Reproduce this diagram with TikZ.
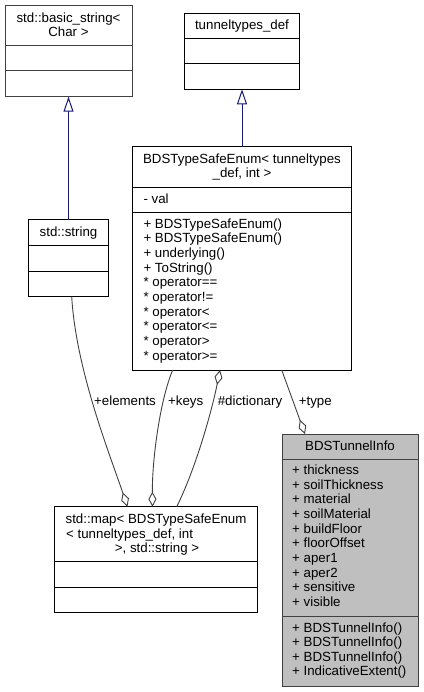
\documentclass[tikz,border=0pt]{standalone}
\usepackage{fontspec}
\setmainfont{Liberation Sans}
\usetikzlibrary{arrows.meta}

\definecolor{edgegray}{HTML}{404040}
\definecolor{inhblue}{HTML}{191970}
\definecolor{rootgray}{HTML}{BFBFBF}
\newcommand\umlfont{\fontsize{13.3}{14.7}\selectfont}

\begin{document}
\begin{tikzpicture}[x=1pt,y=-1pt,
  classbox/.style={draw=black,line width=1pt,fill=white,anchor=north west,
    inner sep=0pt,outer sep=0pt},
  member/.style={anchor=base west,inner sep=0pt,font=\umlfont},
  title/.style={anchor=base,inner sep=0pt,font=\umlfont},
  inherit/.style={draw=inhblue,line width=1pt,
    -{Triangle[length=15pt,width=10pt,fill=white]}},
  aggr/.style={draw=edgegray,line width=0.9pt,
    -{Diamond[length=15pt,width=8pt,fill=white]}}]

\useasboundingbox (0,0) rectangle (423,692);

% std::basic_string< Char >
\node[classbox,draw=edgegray,minimum width=127pt,minimum height=91pt] (bstr) at (5,5.7) {};
\draw[edgegray,line width=1pt] (5,46) -- (132,46);
\draw[edgegray,line width=1pt] (5,71) -- (132,71);
\node[title] (bstrt1) at (68.5,22.5) {std::basic\_string<};
\node[title] (bstrt2) at (68.5,36.5) {Char >};

% tunneltypes_def
\node[classbox,minimum width=114.6pt,minimum height=76pt] (tdef) at (184.7,13.3) {};
\draw[line width=1pt] (184.7,38.7) -- (299.3,38.7);
\draw[line width=1pt] (184.7,63.7) -- (299.3,63.7);
\node[title] (tdeft) at (242,29.5) {tunneltypes\_def};

% BDSTypeSafeEnum< tunneltypes_def, int >
\node[classbox,minimum width=218.6pt,minimum height=223.3pt] (enum) at (132.7,146.7) {};
\draw[line width=1pt] (132.7,187.3) -- (351.3,187.3);
\draw[line width=1pt] (132.7,212.3) -- (351.3,212.3);
\node[title] (enumt1) at (242,163.5) {BDSTypeSafeEnum< tunneltypes};
\node[title] (enumt2) at (242,177.5) {\_def, int >};
\node[member] (enumval) at (143.3,203.5) {- val};
\foreach \m [count=\i from 0] in {+ BDSTypeSafeEnum(), + BDSTypeSafeEnum(),
    + underlying(), + ToString(), * operator==, * operator!=, * operator<,
    * operator<=, * operator>, * operator>=}
  \node[member] (enumop\i) at (143.3,228.3+\i*14.67) {\m};

% std::string
\node[classbox,minimum width=80.4pt,minimum height=76.7pt] (str) at (28.3,220) {};
\draw[line width=1pt] (28.3,245.7) -- (108.7,245.7);
\draw[line width=1pt] (28.3,271) -- (108.7,271);
\node[title] (strt) at (68.5,236.5) {std::string};

% std::map< ... >
\node[classbox,minimum width=203.2pt,minimum height=106pt] (map) at (54.5,506.7) {};
\draw[line width=1pt] (54.5,561.7) -- (257.7,561.7);
\draw[line width=1pt] (54.5,587) -- (257.7,587);
\node[title] (mapt1) at (156,523.3) {std::map< BDSTypeSafeEnum};
\node[member] (mapt2) at (66,538.3) {< tunneltypes\_def, int};
\node[title] (mapt3) at (157,552.7) {>, std::string >};

% BDSTunnelInfo
\node[classbox,fill=rootgray,draw=edgegray,minimum width=136pt,minimum height=252pt] (info) at (282,434) {};
\draw[edgegray,line width=1pt] (282,459) -- (418,459);
\draw[edgegray,line width=1pt] (282,616.7) -- (418,616.7);
\node[title] (infot) at (350,450) {BDSTunnelInfo};
\foreach \m [count=\i from 0] in {+ thickness, + soilThickness, + material,
    + soilMaterial, + buildFloor, + floorOffset, + aper1, + aper2,
    + sensitive, + visible}
  \node[member] (infoattr\i) at (292,474.3+\i*14.7) {\m};
\foreach \m [count=\i from 0] in {+ BDSTunnelInfo(), + BDSTunnelInfo(),
    + BDSTunnelInfo(), + IndicativeExtent()}
  \node[member] (infoop\i) at (292,632+\i*14.5) {\m};

% inheritance
\draw[inherit] (str.north) -- (bstr.south);
\draw[inherit] (enum.north) -- (tdef.south);

% aggregation
\draw[aggr] ([xshift=3.2pt]str.south) .. controls (76,370) and (110,455) .. ([xshift=73pt]map.north west);
\draw[aggr] ([xshift=40pt]enum.south west) .. controls (160,400) and (152,460) .. ([xshift=98pt]map.north west);
\draw[aggr] ([xshift=122.2pt]map.north west) .. controls (196,468) and (212,410) .. ([xshift=87.3pt]enum.south west);
\draw[aggr] ([xshift=149pt]enum.south west) -- ([xshift=23pt]info.north west);

\node[title] (lblelem) at (125,405) {+elements};
\node[title] (lblkeys) at (185.7,405) {+keys};
\node[title] (lbldict) at (250,405) {\#dictionary};
\node[title] (lbltype) at (315.3,405) {+type};

\end{tikzpicture}
\end{document}
